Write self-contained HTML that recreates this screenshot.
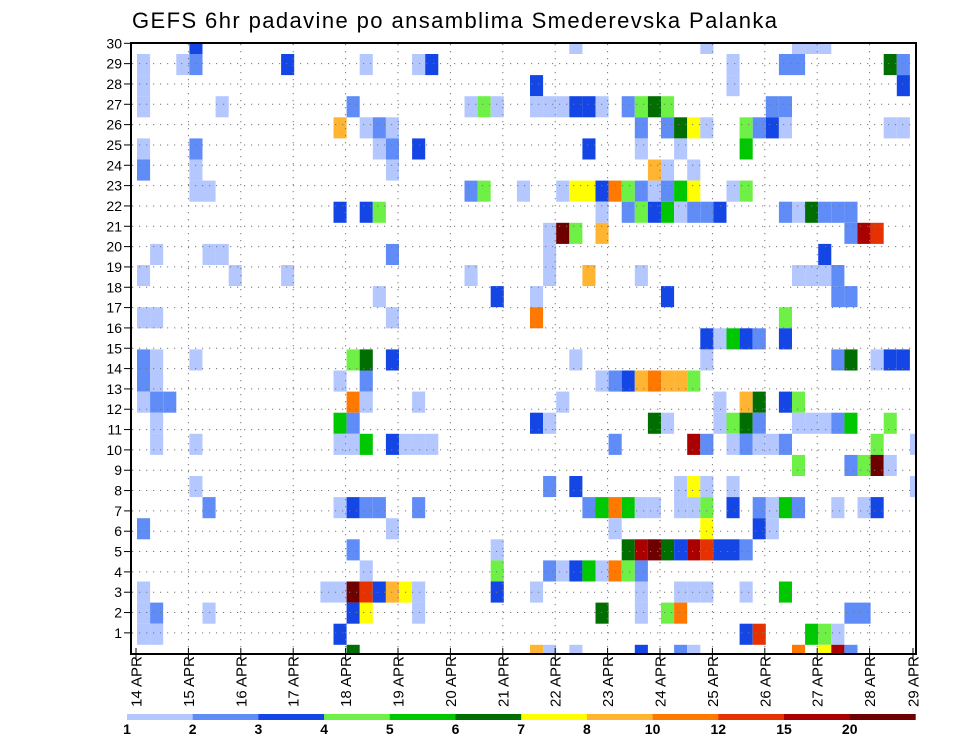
<!DOCTYPE html>
<html><head><meta charset="utf-8"><style>
html,body{margin:0;padding:0;background:#fff;}
svg{display:block;font-family:"Liberation Sans",sans-serif;}
</style></head><body>
<svg id="chart" width="960" height="742" viewBox="0 0 960 742" xmlns="http://www.w3.org/2000/svg">
<defs><clipPath id="plotclip"><rect x="131" y="43" width="785" height="611"/></clipPath></defs>
<text x="132" y="28" font-size="22" textLength="645" fill="#000">GEFS 6hr padavine po ansamblima Smederevska Palanka</text>
<g id="cells" clip-path="url(#plotclip)"></g>
<g id="grid"></g>
<rect x="131" y="43" width="785" height="611" fill="none" stroke="#000" stroke-width="2"/>
<g id="yaxis"></g>
<g id="xaxis"></g>
<g id="legend"></g>
</svg>
<script>
// day tick labels
const dayLabels = ["14 APR","15 APR","16 APR","17 APR","18 APR","19 APR","20 APR","21 APR","22 APR","23 APR","24 APR","25 APR","26 APR","27 APR","28 APR","29 APR"];
// member labels on y axis
const memberTicks = [1,2,3,4,5,6,7,8,9,10,11,12,13,14,15,16,17,18,19,20,21,22,23,24,25,26,27,28,29,30];
// legend thresholds (mm)
const levelBounds = [1,2,3,4,5,6,7,8,10,12,15,20];
const levelLabels = ["1","2","3","4","5","6","7","8","10","12","15","20"];
const levelColors = ["#b4c8ff","#5f8cf7","#1446e6","#6ef046","#00c800","#006e00","#ffff00","#ffb432","#ff7800","#e63200","#aa0000","#6e0000"];
// cells: [member row (0 = bottom), 6h step index, precipitation mm]
const cells = [
[29,4,3.5],[29,33,1.5],[29,43,1.5],[29,50,1.5],[29,51,1.5],[29,52,1.5],
[28,0,1.5],[28,3,1.5],[28,4,2.5],[28,11,3.5],[28,17,1.5],[28,21,1.5],[28,22,3.5],[28,45,1.5],[28,49,2.5],[28,50,2.5],[28,57,6.5],[28,58,2.5],
[27,0,1.5],[27,30,3.5],[27,45,1.5],[27,58,3.5],
[26,0,1.5],[26,6,1.5],[26,16,2.5],[26,25,1.5],[26,26,4.5],[26,27,1.5],[26,30,1.5],[26,31,1.5],[26,32,1.5],[26,33,3.5],[26,34,3.5],[26,35,1.5],[26,37,2.5],[26,38,4.5],[26,39,6.5],[26,40,4.5],[26,48,2.5],[26,49,2.5],
[25,15,9],[25,17,1.5],[25,18,2.5],[25,19,1.5],[25,38,2.5],[25,40,2.5],[25,41,6.5],[25,42,7.5],[25,43,1.5],[25,46,4.5],[25,47,2.5],[25,48,3.5],[25,49,1.5],[25,57,1.5],[25,58,1.5],
[24,0,1.5],[24,4,2.5],[24,18,1.5],[24,19,2.5],[24,21,3.5],[24,34,3.5],[24,38,1.5],[24,41,1.5],[24,46,5.5],
[23,0,2.5],[23,4,1.5],[23,19,1.5],[23,39,9],[23,40,1.5],[23,42,1.5],
[22,4,1.5],[22,5,1.5],[22,25,2.5],[22,26,4.5],[22,29,1.5],[22,32,1.5],[22,33,7.5],[22,34,7.5],[22,35,3.5],[22,36,11],[22,37,4.5],[22,38,2.5],[22,39,1.5],[22,40,2.5],[22,41,5.5],[22,42,7.5],[22,45,1.5],[22,46,4.5],
[21,15,3.5],[21,17,3.5],[21,18,4.5],[21,35,1.5],[21,37,2.5],[21,38,4.5],[21,39,3.5],[21,40,5.5],[21,41,1.5],[21,42,2.5],[21,43,2.5],[21,44,3.5],[21,49,2.5],[21,50,1.5],[21,51,6.5],[21,52,2.5],[21,53,2.5],[21,54,2.5],
[20,31,1.5],[20,32,25],[20,33,4.5],[20,35,9],[20,54,2.5],[20,55,17.5],[20,56,13.5],
[19,1,1.5],[19,5,1.5],[19,6,1.5],[19,19,2.5],[19,31,1.5],[19,52,3.5],
[18,0,1.5],[18,7,1.5],[18,11,1.5],[18,25,1.5],[18,31,1.5],[18,34,9],[18,38,1.5],[18,50,1.5],[18,51,1.5],[18,52,1.5],[18,53,2.5],
[17,18,1.5],[17,27,3.5],[17,30,1.5],[17,40,3.5],[17,53,2.5],[17,54,2.5],
[16,0,1.5],[16,1,1.5],[16,19,1.5],[16,30,11],[16,49,4.5],
[15,43,3.5],[15,44,1.5],[15,45,5.5],[15,46,3.5],[15,47,2.5],[15,49,3.5],
[14,0,2.5],[14,1,1.5],[14,4,1.5],[14,16,4.5],[14,17,6.5],[14,19,3.5],[14,33,1.5],[14,43,1.5],[14,53,2.5],[14,54,6.5],[14,56,1.5],[14,57,3.5],[14,58,3.5],
[13,0,2.5],[13,1,1.5],[13,15,1.5],[13,17,2.5],[13,35,1.5],[13,36,2.5],[13,37,3.5],[13,38,9],[13,39,11],[13,40,9],[13,41,9],[13,42,4.5],
[12,0,1.5],[12,1,2.5],[12,2,2.5],[12,16,11],[12,17,1.5],[12,21,1.5],[12,32,1.5],[12,44,1.5],[12,46,9],[12,47,6.5],[12,49,3.5],[12,50,4.5],
[11,1,1.5],[11,15,5.5],[11,16,2.5],[11,30,3.5],[11,31,1.5],[11,39,6.5],[11,40,1.5],[11,44,1.5],[11,45,4.5],[11,46,6.5],[11,47,2.5],[11,50,1.5],[11,51,1.5],[11,52,1.5],[11,53,2.5],[11,54,5.5],[11,57,4.5],
[10,1,1.5],[10,4,1.5],[10,15,1.5],[10,16,1.5],[10,17,5.5],[10,19,3.5],[10,20,1.5],[10,21,1.5],[10,22,1.5],[10,36,2.5],[10,42,17.5],[10,43,2.5],[10,45,1.5],[10,46,2.5],[10,47,1.5],[10,48,1.5],[10,49,2.5],[10,56,4.5],[10,59,1.5],
[9,50,4.5],[9,54,2.5],[9,55,4.5],[9,56,25],[9,57,1.5],
[8,4,1.5],[8,31,2.5],[8,33,3.5],[8,41,1.5],[8,42,7.5],[8,43,1.5],[8,45,1.5],[8,59,1.5],
[7,5,2.5],[7,15,1.5],[7,16,3.5],[7,17,2.5],[7,18,2.5],[7,21,2.5],[7,34,2.5],[7,35,5.5],[7,36,11],[7,37,5.5],[7,38,1.5],[7,39,1.5],[7,41,1.5],[7,42,1.5],[7,43,4.5],[7,45,3.5],[7,47,2.5],[7,48,1.5],[7,49,5.5],[7,50,2.5],[7,53,1.5],[7,55,1.5],[7,56,3.5],
[6,0,2.5],[6,19,1.5],[6,36,1.5],[6,43,7.5],[6,47,3.5],[6,48,1.5],
[5,16,2.5],[5,27,1.5],[5,37,6.5],[5,38,17.5],[5,39,25],[5,40,6.5],[5,41,3.5],[5,42,17.5],[5,43,13.5],[5,44,3.5],[5,45,3.5],[5,46,2.5],
[4,17,1.5],[4,27,4.5],[4,31,2.5],[4,32,1.5],[4,33,3.5],[4,34,5.5],[4,35,1.5],[4,36,11],[4,37,4.5],[4,38,2.5],
[3,0,1.5],[3,14,1.5],[3,15,1.5],[3,16,25],[3,17,13.5],[3,18,3.5],[3,19,9],[3,20,7.5],[3,21,1.5],[3,27,3.5],[3,30,1.5],[3,38,1.5],[3,41,1.5],[3,42,1.5],[3,43,1.5],[3,46,1.5],[3,49,5.5],
[2,0,1.5],[2,1,2.5],[2,5,1.5],[2,16,3.5],[2,17,7.5],[2,21,1.5],[2,35,6.5],[2,38,1.5],[2,40,4.5],[2,41,11],[2,54,2.5],[2,55,2.5],
[1,0,1.5],[1,1,1.5],[1,15,3.5],[1,46,3.5],[1,47,13.5],[1,51,5.5],[1,52,4.5],[1,53,1.5],
[0,16,6.5],[0,30,9],[0,31,1.5],[0,33,1.5],[0,38,3.5],[0,41,2.5],[0,42,1.5],[0,50,11],[0,52,7.5],[0,53,17.5],[0,54,2.5]
];

const NS = "http://www.w3.org/2000/svg";
function mk(tag, attrs, parent){ const e=document.createElementNS(NS,tag); for(const k in attrs) e.setAttribute(k,attrs[k]); parent.appendChild(e); return e; }
// axis functions
const stepW = 13.1, dayW = 52.4;
function xStep(s){ return 137 + s*stepW; }
function xDay(d){ return 136 + d*dayW; }
function yCellTop(m){ return 54 + 21.1*(28 - m); }
function yTick(r){ return 43.3 + (30 - r)*20.33; }
function colorFor(v){ let i=0; for(let j=0;j<levelBounds.length;j++){ if(v>=levelBounds[j]) i=j; } return levelColors[i]; }

const gCells=document.getElementById('cells');
cells.forEach(c=>{
  const r=mk('rect',{x:xStep(c[1]).toFixed(2),y:yCellTop(c[0]).toFixed(2),width:stepW,height:21.1,fill:colorFor(c[2])},gCells);
  
  
});

const gGrid=document.getElementById('grid');
for(let d=1; d<dayLabels.length-1; d++){
  const l=mk('line',{x1:xDay(d),x2:xDay(d),y1:44,y2:653,stroke:'#777','stroke-width':1,'stroke-dasharray':'1.2 5.8'},gGrid);
  
  
}
memberTicks.forEach(r=>{
  if(r===30) return;
  const l=mk('line',{x1:132,x2:915,y1:yTick(r),y2:yTick(r),stroke:'#777','stroke-width':1,'stroke-dasharray':'1.2 5.8'},gGrid);
  
  
});

const gY=document.getElementById('yaxis');
memberTicks.forEach(r=>{
  const y=yTick(r);
  const t=mk('line',{x1:124,x2:131,y1:y,y2:y,stroke:'#000','stroke-width':1},gY);
  
  
  const tx=mk('text',{x:122,y:y+5,'text-anchor':'end','font-size':14,fill:'#000'},gY);
  tx.textContent=String(r);
  
  
});

const gX=document.getElementById('xaxis');
dayLabels.forEach((lab,d)=>{
  let x=xDay(d); if(x>916) x=913;
  const t=mk('line',{x1:x,x2:x,y1:648,y2:660,stroke:'#000','stroke-width':1},gX);
  
  
  const tx=mk('text',{x:0,y:0,'font-size':15,fill:'#000',transform:'translate('+(x+5.5)+',707) rotate(-90)'},gX);
  tx.textContent=lab;
  
  
});

const gL=document.getElementById('legend');
const legX0=127, legW=65.7;
levelColors.forEach((col,i)=>{
  const r=mk('rect',{x:legX0+i*legW,y:714,width:legW+0.3,height:6,fill:col},gL);
  
  
  const tx=mk('text',{x:legX0+i*legW,y:734,'text-anchor':'middle','font-size':14,'font-weight':'600',fill:'#000'},gL);
  tx.textContent=levelLabels[i];
  
  
});
</script>
</body></html>
